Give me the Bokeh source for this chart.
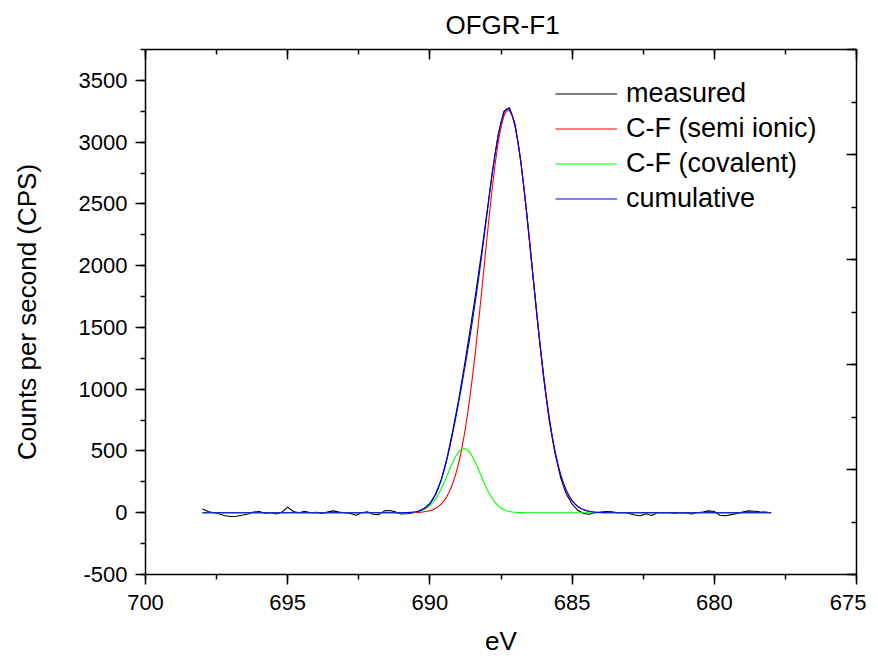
from bokeh.plotting import figure
from bokeh.models import (Range1d, LinearAxis, SingleIntervalTicker, Legend,
                          LegendItem, CustomJSTickFormatter)
from bokeh.embed import file_html
from bokeh.resources import INLINE

FONT = "Liberation Sans"

# ---------------- data ----------------
title_text = "OFGR-F1"
x_label = "eV"
y_label = "Counts per second (CPS)"
series_names = ["measured", "C-F (semi ionic)", "C-F (covalent)", "cumulative"]

meas_ev = [698.0, 697.8, 697.6, 697.4, 697.2, 697.0, 696.8, 696.6, 696.4, 696.2,
           696.0, 695.8, 695.6, 695.4, 695.2, 695.0, 694.8, 694.6, 694.4, 694.2,
           694.0, 693.8, 693.6, 693.4, 693.2, 693.0, 692.8, 692.6, 692.4, 692.2,
           692.0, 691.8, 691.6, 691.4, 691.2, 691.0, 690.8, 690.6, 690.4, 690.2,
           690.0, 689.8, 689.6, 689.4, 689.2, 689.0, 688.8, 688.6, 688.4, 688.2,
           688.0, 687.8, 687.6, 687.4, 687.2, 687.0, 686.8, 686.6, 686.4, 686.2,
           686.0, 685.8, 685.6, 685.4, 685.2, 685.0, 684.8, 684.6, 684.4, 684.2,
           684.0, 683.8, 683.6, 683.4, 683.2, 683.0, 682.8, 682.6, 682.4, 682.2,
           682.0, 681.8, 681.6, 681.4, 681.2, 681.0, 680.8, 680.6, 680.4, 680.2,
           680.0, 679.8, 679.6, 679.4, 679.2, 679.0, 678.8, 678.6, 678.4, 678.2,
           678.0]
measured = [30, 10, 0, -10, -25, -30, -28, -20, -10, 5,
            10, -5, 0, -10, 5, 45, 10, 0, 12, 0,
            3, -5, 5, 15, 5, 0, -5, -20, 0, 8,
            -12, -15, 15, 18, 5, -10, -8, 0, 12, 35,
            75, 150, 270, 440, 660, 900, 1170, 1460, 1760, 2080,
            2420, 2770, 3060, 3250, 3280, 3140, 2840, 2430, 1970, 1510,
            1090, 740, 480, 280, 150, 70, 20, -5, -12, 0,
            5, 10, 8, 0, 2, -5, -18, -25, -8, -22,
            0, 2, 0, -5, 0, -2, -10, 0, 5, 15,
            10, -20, -25, -15, -5, 5, 15, 12, 8, 5,
            0]

fit_ev = [698.0,
          691.0, 690.9, 690.8, 690.7, 690.6, 690.5, 690.4, 690.3, 690.2, 690.1,
          690.0, 689.9, 689.8, 689.7, 689.6, 689.5, 689.4, 689.3, 689.2, 689.1,
          689.0, 688.9, 688.8, 688.7, 688.6, 688.5, 688.4, 688.3, 688.2, 688.1,
          688.0, 687.9, 687.8, 687.7, 687.6, 687.5, 687.4, 687.3, 687.2, 687.1,
          687.0, 686.9, 686.8, 686.7, 686.6, 686.5, 686.4, 686.3, 686.2, 686.1,
          686.0, 685.9, 685.8, 685.7, 685.6, 685.5, 685.4, 685.3, 685.2, 685.1,
          685.0, 684.9, 684.8, 684.7, 684.6, 684.5, 684.4, 684.3, 684.2, 684.1,
          684.0, 683.9, 683.8,
          678.0]
semi_ionic = [0,
              0, 0, 0, 1, 1, 2, 3, 5, 8, 12,
              17, 25, 36, 51, 71, 98, 133, 178, 235, 305,
              392, 495, 618, 761, 924, 1106, 1305, 1520, 1746, 1977,
              2209, 2434, 2644, 2834, 2995, 3122, 3210, 3254, 3254, 3210,
              3122, 2995, 2834, 2644, 2434, 2209, 1977, 1746, 1520, 1305,
              1106, 924, 761, 618, 495, 392, 305, 235, 178, 133,
              98, 71, 51, 36, 25, 17, 12, 8, 5, 3,
              2, 1, 0,
              0]
covalent = [0,
            0, 1, 1, 2, 4, 6, 10, 16, 26, 39,
            57, 81, 112, 150, 194, 245, 299, 354, 407, 453,
            489, 512, 520, 512, 489, 453, 407, 354, 299, 245,
            194, 150, 112, 81, 57, 39, 26, 16, 10, 6,
            4, 2, 1, 1, 0, 0, 0, 0, 0, 0,
            0, 0, 0, 0, 0, 0, 0, 0, 0, 0,
            0, 0, 0, 0, 0, 0, 0, 0, 0, 0,
            0, 0, 0,
            0]
cumulative = [0,
              0, 1, 1, 3, 5, 8, 13, 21, 34, 51,
              74, 106, 148, 201, 265, 343, 432, 532, 642, 758,
              881, 1007, 1138, 1273, 1413, 1559, 1712, 1874, 2045, 2222,
              2403, 2584, 2756, 2915, 3052, 3161, 3236, 3270, 3264, 3216,
              3126, 2997, 2835, 2645, 2434, 2209, 1977, 1746, 1520, 1305,
              1106, 924, 761, 618, 495, 392, 305, 235, 178, 133,
              98, 71, 51, 36, 25, 17, 12, 8, 5, 3,
              2, 1, 0,
              0]

# ---------------- figure ----------------
p = figure(frame_width=711, frame_height=525,
           x_range=Range1d(700, 675), y_range=Range1d(-500, 3750),
           output_backend="svg", toolbar_location=None,
           min_border_left=145, min_border_top=49, min_border_right=10,
           min_border_bottom=0)
p.outline_line_color = None
p.xgrid.visible = False
p.ygrid.visible = False
p.background_fill_color = "white"
p.border_fill_color = "white"

p.title.text = title_text
p.title.align = "left"
p.title.offset = 300
p.title.vertical_align = "top"
p.title.standoff = 16
p.title.text_font = FONT
p.title.text_font_size = "26px"
p.title.text_font_style = "normal"
p.title.text_color = "black"

blank = CustomJSTickFormatter(code="return '';")


def style_axis(ax, show_labels, tick_in, tick_out, minor_in, minor_out):
    ax.axis_line_width = 1.5
    ax.axis_line_color = "black"
    ax.major_tick_line_width = 1.5
    ax.minor_tick_line_width = 1.5
    ax.major_tick_line_color = "black"
    ax.minor_tick_line_color = "black"
    ax.major_tick_in = tick_in
    ax.major_tick_out = tick_out
    ax.minor_tick_in = minor_in
    ax.minor_tick_out = minor_out
    ax.major_label_text_font = FONT
    ax.axis_label_text_font = FONT
    ax.axis_label_text_font_style = "normal"
    ax.axis_label_text_color = "black"
    ax.major_label_text_color = "black"
    if show_labels:
        ax.major_label_text_font_size = "22px"
        ax.axis_label_text_font_size = "26px"
        ax.major_label_standoff = 8
    else:
        ax.formatter = blank
        ax.major_label_text_font_size = "1px"
        ax.major_label_standoff = 0


xb = p.xaxis[0]
xb.ticker = SingleIntervalTicker(interval=5, num_minor_ticks=2)
style_axis(xb, True, 0, 10, 0, 5)
xb.axis_label = x_label
xb.major_label_standoff = 10
xb.axis_label_standoff = 13

yl = p.yaxis[0]
yl.ticker = SingleIntervalTicker(interval=500, num_minor_ticks=2)
style_axis(yl, True, 0, 10, 0, 5)
yl.axis_label = y_label
yl.axis_label_standoff = 34
yl.major_label_overrides = {-500: "-500"}

xt = LinearAxis(ticker=SingleIntervalTicker(interval=5, num_minor_ticks=2))
style_axis(xt, False, 10, 0, 5, 0)
p.add_layout(xt, "above")

p.extra_y_ranges = {"r": Range1d(0, 5)}
yr = LinearAxis(y_range_name="r", ticker=SingleIntervalTicker(interval=1, num_minor_ticks=2))
style_axis(yr, False, 10, 0, 5, 0)
p.add_layout(yr, "right")

# ---------------- lines ----------------
r_meas = p.line(meas_ev, measured, line_color="black", line_width=1.1)
r_red = p.line(fit_ev, semi_ionic, line_color="#ff0000", line_width=1.1)
r_green = p.line(fit_ev, covalent, line_color="#00ff00", line_width=1.1)
r_blue = p.line(fit_ev, cumulative, line_color="#0000ff", line_width=1.1)

legend = Legend(items=[LegendItem(label=series_names[0], renderers=[r_meas]),
                       LegendItem(label=series_names[1], renderers=[r_red]),
                       LegendItem(label=series_names[2], renderers=[r_green]),
                       LegendItem(label=series_names[3], renderers=[r_blue])],
                location=(410, 358), padding=0, margin=0, spacing=0,
                glyph_width=62, glyph_height=35, label_height=35,
                label_standoff=9, border_line_color=None,
                background_fill_alpha=0,
                label_text_font=FONT, label_text_font_size="27px",
                label_text_color="black")
p.add_layout(legend)

open("out.html", "w").write(file_html(p, INLINE))
